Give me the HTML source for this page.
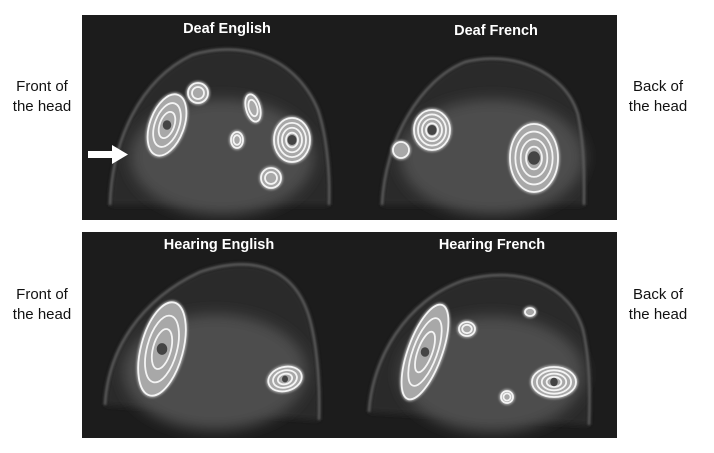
<!DOCTYPE html>
<html><head><meta charset="utf-8"><style>
html,body{margin:0;padding:0;background:#fff;width:714px;height:453px;overflow:hidden}
svg{display:block}
.lbl{font-family:"Liberation Sans",sans-serif;font-size:15px;fill:#111}
.ttl{font-family:"Liberation Sans",sans-serif;font-size:14.5px;font-weight:bold;fill:#fff}
</style></head><body>
<svg width="714" height="453" viewBox="0 0 714 453">
<defs>
<filter id="b3" x="-50%" y="-50%" width="200%" height="200%"><feGaussianBlur stdDeviation="3"/></filter>
<filter id="b8" x="-50%" y="-50%" width="200%" height="200%"><feGaussianBlur stdDeviation="7"/></filter>
<filter id="b1" x="-50%" y="-50%" width="200%" height="200%"><feGaussianBlur stdDeviation="1"/></filter>
<clipPath id="cp"><rect x="82" y="15" width="535" height="205"/><rect x="82" y="232" width="535" height="206"/></clipPath>
</defs>
<rect x="82" y="15" width="535" height="205" fill="#1c1c1c"/>
<rect x="82" y="232" width="535" height="206" fill="#1c1c1c"/>
<g id="scene" clip-path="url(#cp)"></g>
<text class="ttl" x="227" y="33" text-anchor="middle">Deaf English</text>
<text class="ttl" x="496" y="35" text-anchor="middle">Deaf French</text>
<text class="ttl" x="219" y="249" text-anchor="middle">Hearing English</text>
<text class="ttl" x="492" y="249" text-anchor="middle">Hearing French</text>
<g><text class="lbl" x="42" y="91" text-anchor="middle">Front of</text><text class="lbl" x="42" y="111" text-anchor="middle">the head</text></g>
<g><text class="lbl" x="658" y="91" text-anchor="middle">Back of</text><text class="lbl" x="658" y="111" text-anchor="middle">the head</text></g>
<g><text class="lbl" x="42" y="299" text-anchor="middle">Front of</text><text class="lbl" x="42" y="319" text-anchor="middle">the head</text></g>
<g><text class="lbl" x="658" y="299" text-anchor="middle">Back of</text><text class="lbl" x="658" y="319" text-anchor="middle">the head</text></g>
<g>
<rect x="88" y="151" width="26" height="7" fill="#fff"/><polygon points="112,145 128,154.5 112,164" fill="#fff"/>
</g>
</svg>
<script>
const brainCx=[222,492,215,492];
const brainCy=[145,145,360,362];
const skulls=[
"M110,205 C112,140 140,80 192,55 C240,40 295,55 318,110 C328,140 330,180 329,205",
"M382,205 C385,140 420,80 465,62 C510,50 565,70 578,115 C585,150 584,180 584,205",
"M105,405 C108,350 140,300 200,272 C250,255 295,265 310,320 C318,350 320,390 319,420",
"M369,412 C372,360 405,300 465,280 C520,265 570,285 583,330 C590,360 590,400 589,425"];
const blobX=[167,198,237,253,292,271,432,401,534,162,285,425,467,554,507,530];
const blobY=[125,93,140,108,140,178,130,150,158,349,379,352,329,382,397,312];
const blobRx=[17,10,6,7,18,10,18,8,24,21,17,17,8,22,6,5];
const blobRy=[32,10,8,14,22,10,20,8,34,48,12,50,7,15,6,4];
const blobRot=[20,0,0,-15,0,0,0,0,0,15,-15,20,0,0,0,0];
const blobRings=[2,1,1,1,3,1,3,0,3,2,2,2,1,3,1,0];
const g=document.getElementById('scene');
const NS='http://www.w3.org/2000/svg';
function mk(t,a){const e=document.createElementNS(NS,t);for(const k in a)e.setAttribute(k,a[k]);g.appendChild(e);return e;}
brainCx.forEach((cx,i)=>{
  const f=mk('path',{d:skulls[i]+' Z',fill:'#2c2c2c',filter:'url(#b3)'});
  
  
  const b=mk('ellipse',{cx:cx,cy:brainCy[i]+12,rx:92,ry:58,fill:'#4e4e4e',filter:'url(#b8)'});
  
  
  const s=mk('path',{d:skulls[i],fill:'none',stroke:'#5e5e5e','stroke-width':2.5,filter:'url(#b1)'});
  
  
});
blobX.forEach((x,i)=>{
  const y=blobY[i],rx=blobRx[i],ry=blobRy[i],r=blobRot[i],n=blobRings[i];
  const tr='rotate('+r+' '+x+' '+y+')';
  const a=mk('ellipse',{cx:x,cy:y,rx:rx+2,ry:ry+2,fill:'#a8a8a8',transform:tr,filter:'url(#b1)'});
  
  
  for(let k=0;k<=n;k++){
    const f=1-k/(n+1.5);
    const e=mk('ellipse',{cx:x,cy:y,rx:rx*f,ry:ry*f,fill:'none',stroke:'#f4f4f4','stroke-width':1.8,transform:tr});
    
    
  }
  if(n>=2){
    const c=mk('ellipse',{cx:x,cy:y,rx:Math.min(rx,ry)*0.25,ry:Math.min(rx,ry)*0.28,fill:'#444'});
    
    
  }
});
</script>
</body></html>
